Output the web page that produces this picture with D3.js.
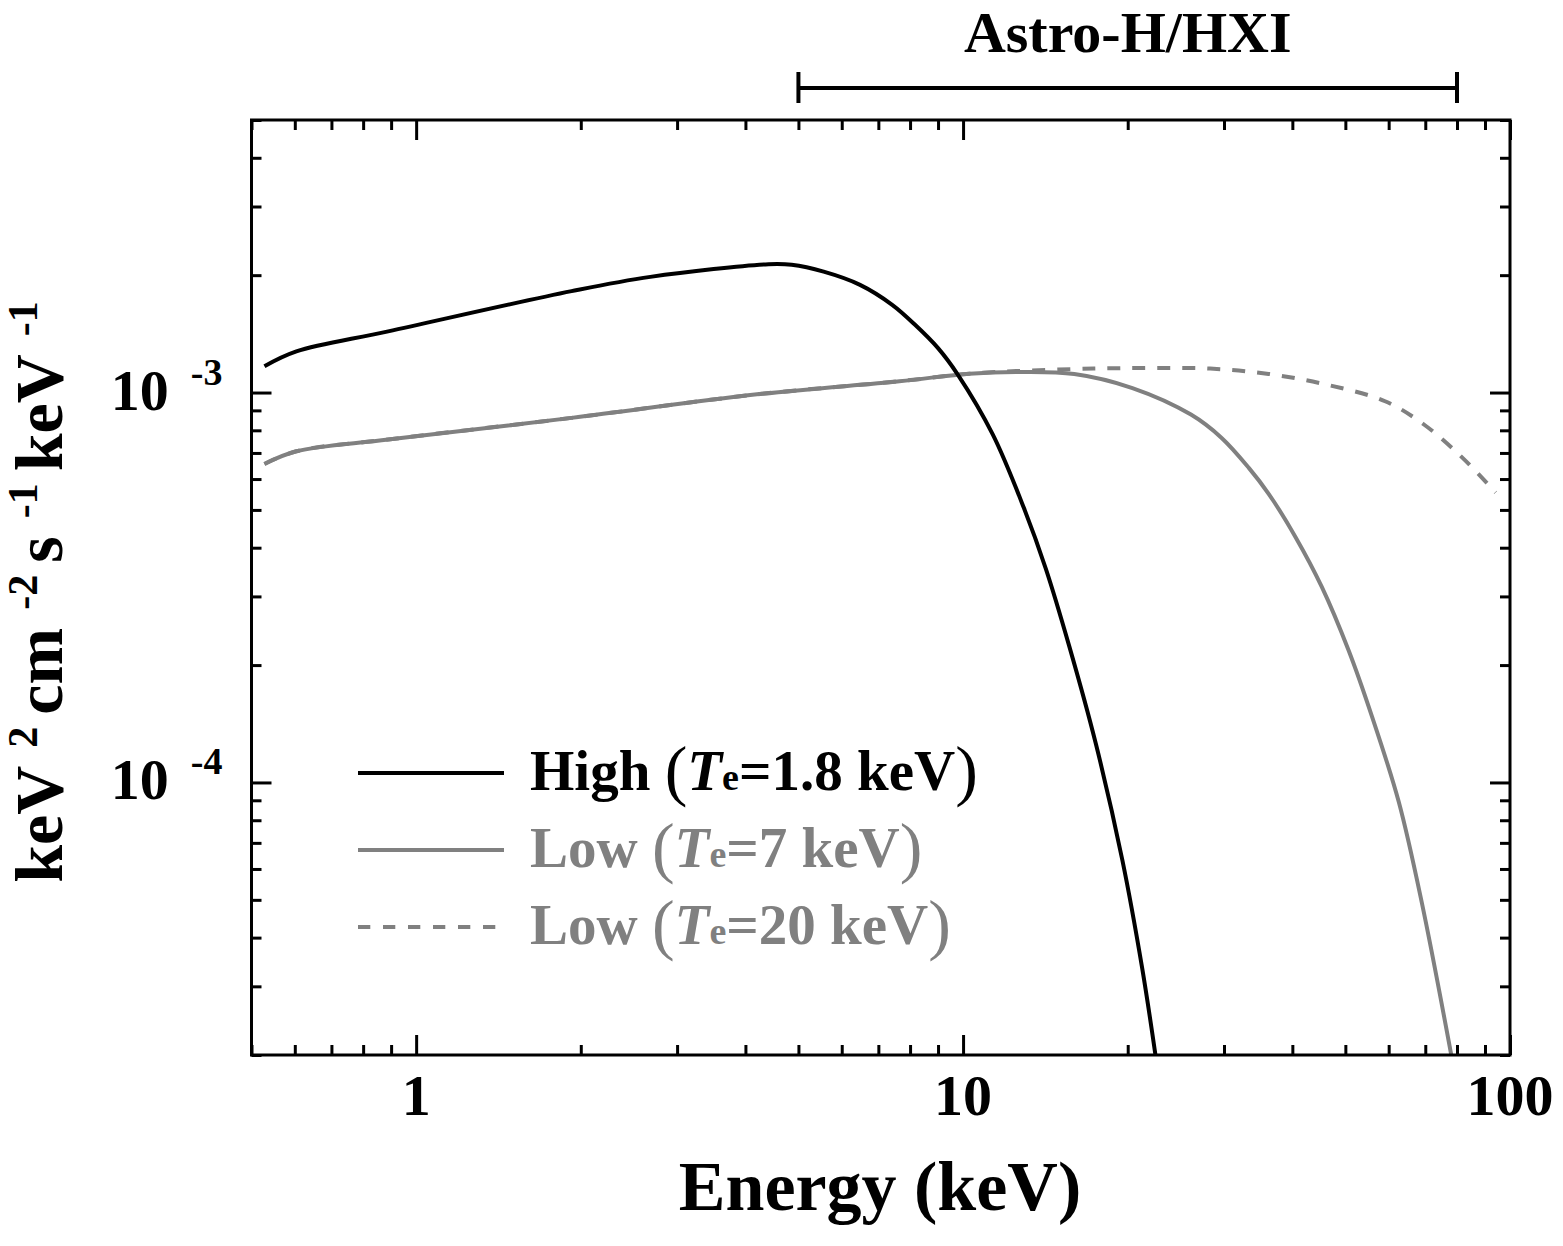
<!DOCTYPE html>
<html>
<head>
<meta charset="utf-8">
<script src="https://cdnjs.cloudflare.com/ajax/libs/d3/7.8.5/d3.min.js"></script>
<style>
  body { margin: 0; background: #fff; }
  text { font-family: "Liberation Serif", "DejaVu Serif", serif; font-weight: bold; }
</style>
</head>
<body>
<div id="chart"></div>
<script>
// spectra (energy in keV, flux in keV^2 cm^-2 s^-1 keV^-1)
const energyHigh = [0.528, 0.604, 0.889, 1.924, 2.68, 4.41, 4.86, 5.56, 6.48, 7.42, 8.17, 9.0, 9.78, 11.33, 12.91, 14.17, 15.63, 17.48, 19.55, 21.27, 22.5];
const fluxHigh = [1.168e-3, 1.275e-3, 1.435e-3, 1.82e-3, 1.98e-3, 2.133e-3, 2.126e-3, 2.042e-3, 1.889e-3, 1.679e-3, 1.492e-3, 1.300e-3, 1.112e-3, 7.81e-4, 5.07e-4, 3.53e-4, 2.24e-4, 1.26e-4, 6.33e-5, 3.32e-5, 1.98e-5];

const energyLow7 = [0.528, 0.604, 0.889, 1.924, 4.16, 7.65, 10.27, 12.5, 15.97, 20.4, 26.1, 29.7, 33.3, 36.2, 40.5, 45.3, 50.7, 55.9, 62.6, 69.0, 78.2];
const fluxLow7 = [6.56e-4, 7.07e-4, 7.58e-4, 8.61e-4, 9.88e-4, 1.069e-3, 1.118e-3, 1.129e-3, 1.116e-3, 1.027e-3, 8.78e-4, 7.65e-4, 6.41e-4, 5.50e-4, 4.27e-4, 3.17e-4, 2.18e-4, 1.48e-4, 8.92e-5, 4.91e-5, 1.98e-5];

const energyLow20 = [0.528, 0.604, 0.889, 1.924, 4.16, 7.65, 10.27, 12.5, 17.34, 22.1, 28.3, 36.2, 46.2, 59.1, 69.6, 81.9, 94.1];
const fluxLow20 = [6.56e-4, 7.07e-4, 7.58e-4, 8.61e-4, 9.88e-4, 1.069e-3, 1.118e-3, 1.135e-3, 1.152e-3, 1.156e-3, 1.152e-3, 1.116e-3, 1.048e-3, 9.50e-4, 8.28e-4, 6.80e-4, 5.54e-4];

const xMajor = [1, 10, 100];
const xMinor = [0.5, 0.6, 0.7, 0.8, 0.9, 2, 3, 4, 5, 6, 7, 8, 9, 20, 30, 40, 50, 60, 70, 80, 90];
const yMajor = [1e-4, 1e-3];
const yMinor = [2e-5, 3e-5, 4e-5, 5e-5, 6e-5, 7e-5, 8e-5, 9e-5, 2e-4, 3e-4, 4e-4, 5e-4, 6e-4, 7e-4, 8e-4, 9e-4, 2e-3, 3e-3, 4e-3, 5e-3];
const hxiBand = [5, 80];

const series = [
  {name: "High", te: "1.8", x: energyHigh, y: fluxHigh, color: "#000", dash: null},
  {name: "Low", te: "7", x: energyLow7, y: fluxLow7, color: "#808080", dash: null},
  {name: "Low", te: "20", x: energyLow20, y: fluxLow20, color: "#808080", dash: "13,12"}
];

const W = 1563, H = 1246;
const margin = {top: 120, right: 53, bottom: 191, left: 251.5};
const width = W - margin.left - margin.right;
const height = H - margin.top - margin.bottom;

const svg = d3.select("#chart").append("svg")
    .attr("width", W).attr("height", H);
const g = svg.append("g")
    .attr("transform", `translate(${margin.left},${margin.top})`);

const x = d3.scaleLog().domain([0.5, 100]).range([0, width]);
const y = d3.scaleLog().domain([2e-5, 5e-3]).range([height, 0]);

g.append("clipPath").attr("id", "clip")
  .append("rect").attr("width", width).attr("height", height);

// curves
const line = d3.line()
    .x(d => x(d[0]))
    .y(d => y(d[1]))
    .curve(d3.curveCatmullRom.alpha(0.5));

series.slice().reverse().forEach(s => {
  g.append("path")
    .datum(s.x.map((e, i) => [e, s.y[i]]))
    .attr("clip-path", "url(#clip)")
    .attr("fill", "none")
    .attr("stroke", s.color)
    .attr("stroke-width", 4)
    .attr("stroke-dasharray", s.dash)
    .attr("d", line);
});

// ticks on all four sides, pointing inward
function styleAxis(sel) {
  sel.select(".domain").remove();
  sel.selectAll("line").attr("stroke", "#000").attr("stroke-width", 3);
}
g.append("g").attr("transform", `translate(0,${height})`)
  .call(d3.axisBottom(x).tickValues(xMinor).tickSize(-10).tickFormat("")).call(styleAxis);
g.append("g").attr("transform", `translate(0,${height})`)
  .call(d3.axisBottom(x).tickValues(xMajor).tickSize(-20).tickFormat("")).call(styleAxis);
g.append("g")
  .call(d3.axisTop(x).tickValues(xMinor).tickSize(-10).tickFormat("")).call(styleAxis);
g.append("g")
  .call(d3.axisTop(x).tickValues(xMajor).tickSize(-20).tickFormat("")).call(styleAxis);
g.append("g")
  .call(d3.axisLeft(y).tickValues(yMinor).tickSize(-10).tickFormat("")).call(styleAxis);
g.append("g")
  .call(d3.axisLeft(y).tickValues(yMajor).tickSize(-20).tickFormat("")).call(styleAxis);
g.append("g").attr("transform", `translate(${width},0)`)
  .call(d3.axisRight(y).tickValues(yMinor).tickSize(-10).tickFormat("")).call(styleAxis);
g.append("g").attr("transform", `translate(${width},0)`)
  .call(d3.axisRight(y).tickValues(yMajor).tickSize(-20).tickFormat("")).call(styleAxis);

// frame
g.append("rect")
  .attr("width", width).attr("height", height)
  .attr("fill", "none").attr("stroke", "#000").attr("stroke-width", 3);

// x tick labels
g.selectAll(".xlab").data(xMajor).enter().append("text")
  .attr("class", "xlab")
  .attr("x", d => x(d)).attr("y", height + 60)
  .attr("text-anchor", "middle")
  .attr("font-size", 58)
  .text(d => d);

// y tick labels 10^n
g.selectAll(".ylab").data(yMajor).enter().append("text")
  .attr("class", "ylab")
  .attr("x", -29).attr("y", d => y(d) + 17)
  .attr("text-anchor", "end")
  .attr("font-size", 58)
  .each(function(d) {
    const t = d3.select(this);
    t.append("tspan").text("10");
    t.append("tspan").attr("dx", 22).attr("dy", -25).attr("font-size", 38)
      .text("-" + Math.round(-Math.log10(d)));
  });

// axis titles
svg.append("text")
  .attr("x", 880)
  .attr("y", 1210)
  .attr("text-anchor", "middle")
  .attr("font-size", 70)
  .text("Energy (keV)");

const yt = svg.append("text")
  .attr("transform", "translate(62,592) rotate(-90)")
  .attr("text-anchor", "middle")
  .attr("font-size", 68);
[["keV", "2"], ["cm", "-2"], ["s", "-1"], ["keV", "-1"]].forEach(([base, sup], i) => {
  yt.append("tspan").attr("dx", i === 0 ? 0 : 12).attr("dy", i === 0 ? 0 : 25).text(base);
  yt.append("tspan").attr("dx", 18).attr("dy", -25).attr("font-size", 42).text(sup);
});

// Astro-H/HXI band
const band = g.append("g").attr("stroke", "#000").attr("stroke-width", 4);
band.append("line")
  .attr("x1", x(hxiBand[0])).attr("x2", x(hxiBand[1]))
  .attr("y1", -32).attr("y2", -32);
hxiBand.forEach(v => {
  band.append("line")
    .attr("x1", x(v)).attr("x2", x(v))
    .attr("y1", -48).attr("y2", -17);
});
g.append("text")
  .attr("x", (x(hxiBand[0]) + x(hxiBand[1])) / 2)
  .attr("y", -68)
  .attr("text-anchor", "middle")
  .attr("font-size", 58)
  .text("Astro-H/HXI");

// legend
const legend = svg.append("g");
const legY = [773, 850, 927];
series.forEach((s, i) => {
  legend.append("line")
    .attr("x1", 358).attr("x2", 504)
    .attr("y1", legY[i]).attr("y2", legY[i])
    .attr("stroke", s.color).attr("stroke-width", 4)
    .attr("stroke-dasharray", s.dash ? "12.3,12.7" : null);
  const t = legend.append("text")
    .attr("x", 530).attr("y", legY[i] + 17)
    .attr("font-size", 57)
    .attr("fill", s.color);
  t.append("tspan").text(s.name + " ");
  t.append("tspan").attr("font-size", 68).attr("font-weight", "normal").attr("dy", 3).text("(");
  t.append("tspan").attr("font-style", "italic").attr("dy", -3).text("T");
  t.append("tspan").attr("font-size", 38).text("e");
  t.append("tspan").text("=" + s.te + " keV");
  t.append("tspan").attr("font-size", 68).attr("font-weight", "normal").attr("dy", 3).text(")");
});
</script>
</body>
</html>
